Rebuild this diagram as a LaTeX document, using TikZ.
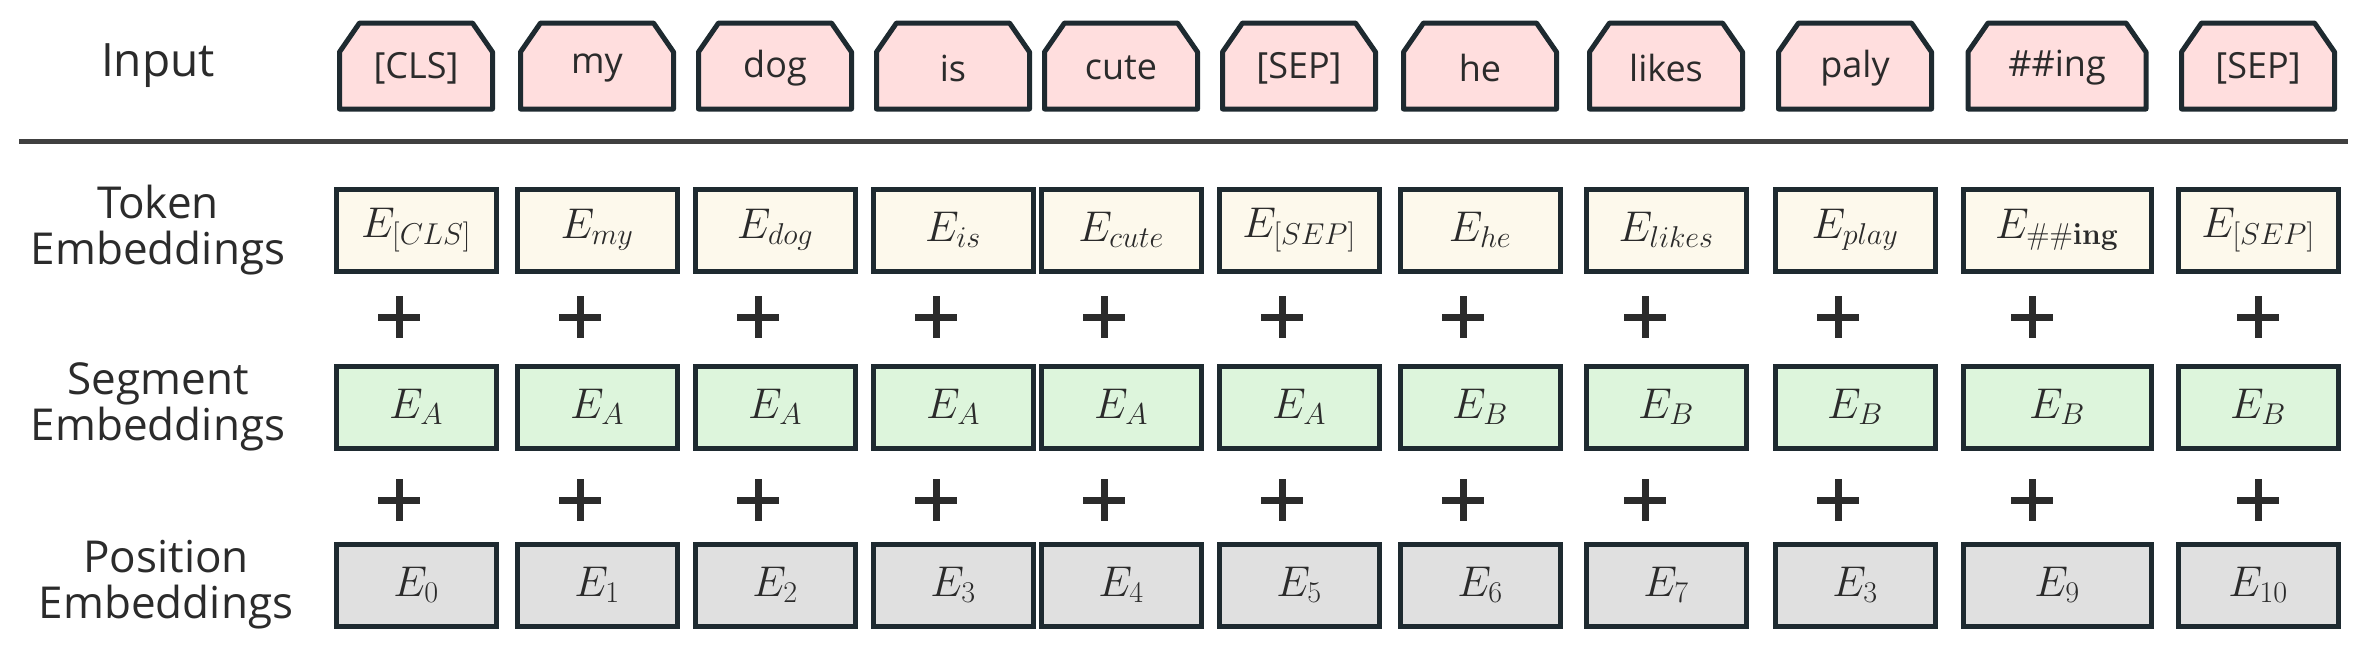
\documentclass[tikz,border=0pt]{standalone}
\usepackage{fix-cm}
\usepackage[no-math]{fontspec}
\setmainfont{Open Sans}
\usetikzlibrary{calc}
\definecolor{bd}{HTML}{1E2A30}
\definecolor{txt}{HTML}{2B2B2B}
\definecolor{inp}{HTML}{FFDEDE}
\definecolor{tok}{HTML}{FDF9EC}
\definecolor{seg}{HTML}{DDF5DC}
\definecolor{pos}{HTML}{E0E0E0}
\tikzset{
  emb/.style={draw=bd,line width=5pt,minimum height=82pt,inner sep=0pt,text=txt,font=\fontsize{43}{46}\selectfont},
  lbl/.style={align=center,text=txt,font=\fontsize{44}{46}\selectfont},
  plus/.style={line width=7pt,draw=txt}
}
\begin{document}
\begin{tikzpicture}[x=1pt,y=-1pt]
\useasboundingbox (0,0) rectangle (2365,651);
\node[lbl,font=\fontsize{46}{48}\selectfont] (li) at (158,66) {Input};
\node[lbl] (lt) at (158,230) {Token\\Embeddings};
\node[lbl] (ls) at (158,407) {Segment\\Embeddings};
\node[lbl] (lp) at (166,585) {Position\\Embeddings};
\draw[line width=5pt,draw=txt!90] (19,141) coordinate (la) -- (2348,141) coordinate (lb);
\foreach \i/\cx/\w/\iw/\po/\word/\tk/\sg/\ps in {
 1/416/160/153/-17/{[CLS]}/{[CLS]}/A/0,
 2/597/160/153/-17/my/{my}/A/1,
 3/775/160/153/-17/dog/{dog}/A/2,
 4/953/160/153/-17/is/{is}/A/3,
 5/1121/160/153/-17/cute/{cute}/A/4,
 6/1299/160/153/-17/{[SEP]}/{[SEP]}/A/5,
 7/1480/160/153/-17/he/{he}/B/6,
 8/1666/160/153/-21/likes/{likes}/B/7,
 9/1855/160/153/-17/paly/{play}/B/3,
 10/2057/188/178/-25/{\#\#ing}/{\#\#\mathbf{ing}}/B/9,
 11/2258/160/153/0/{[SEP]}/{[SEP]}/B/10} {
  \draw[draw=bd,fill=inp,line width=5pt,line join=round]
    (\cx-\iw/2,109) -- (\cx-\iw/2,52) -- (\cx-\iw/2+20,23) -- (\cx+\iw/2-20,23)
    -- (\cx+\iw/2,52) -- (\cx+\iw/2,109) -- cycle;
  \node[text=txt,font=\fontsize{36}{40}\selectfont] (in\i) at (\cx,68) {\word};
  \node[emb,fill=tok,minimum width=\w pt] (t\i) at (\cx,230) {$E_{\tk}$};
  \node[emb,fill=seg,minimum width=\w pt] (s\i) at (\cx,407) {$E_{\sg}$};
  \node[emb,fill=pos,minimum width=\w pt] (p\i) at (\cx,585) {$E_{\ps}$};
  \foreach \py in {317,500} {
    \draw[plus] (\cx+\po-21,\py) -- (\cx+\po+21,\py);
    \draw[plus] (\cx+\po,\py-21) -- (\cx+\po,\py+21);
  }
}
\end{tikzpicture}
\end{document}
